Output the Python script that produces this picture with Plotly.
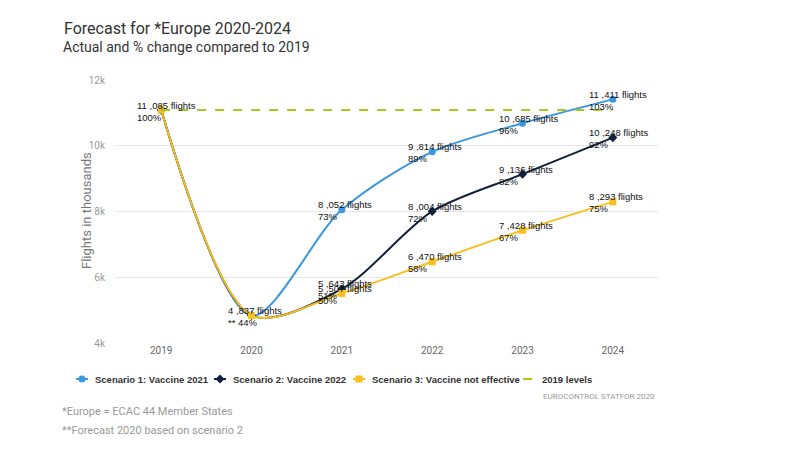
import plotly.graph_objects as go

years = ["2019", "2020", "2021", "2022", "2023", "2024"]
s1_values = [11085, 4837, 8052, 9814, 10685, 11411]
s2_values = [11085, 4837, 5643, 8004, 9136, 10248]
s3_values = [11085, 4837, 5507, 6470, 7428, 8293]
s1_pct = ["100%", "** 44%", "73%", "89%", "96%", "103%"]
s2_pct = ["100%", "** 44%", "51%", "72%", "82%", "92%"]
s3_pct = ["100%", "** 44%", "50%", "58%", "67%", "75%"]
level_2019 = [11085] * len(years)

series_names = ["Scenario 1: Vaccine 2021", "Scenario 2: Vaccine 2022",
                "Scenario 3: Vaccine not effective"]
level_name = "2019 levels"
colors = ["#3a97e0", "#14213d", "#f8c01e"]
level_color = "#a5c81e"
symbols = ["circle", "diamond", "square"]

fig = go.Figure()
for name, vals, col, sym in zip(series_names, [s1_values, s2_values, s3_values], colors, symbols):
    fig.add_trace(go.Scatter(
        x=years, y=vals, name=name, mode="lines+markers",
        line=dict(color=col, width=2, shape="spline", smoothing=0.85),
        marker=dict(color=col, size=7, symbol=sym),
        hoverinfo="skip"))

fig.add_trace(go.Scatter(
    x=years, y=level_2019, name=level_name, mode="lines",
    line=dict(color=level_color, width=2, dash="dash"), hoverinfo="skip"))

def fmt(v):
    return f"{v // 1000} ,{v % 1000:03d} flights"

annotations = []
seen = set()
for vals, pcts in [(s1_values, s1_pct), (s2_values, s2_pct), (s3_values, s3_pct)]:
    for i, (v, p) in enumerate(zip(vals, pcts)):
        if (i, v) in seen:
            continue
        seen.add((i, v))
        annotations.append(dict(
            x=i, y=v, xref="x", yref="y", text=fmt(v) + "<br>" + p,
            showarrow=False, xanchor="left", yanchor="middle", xshift=-26, yshift=-1,
            align="left", font=dict(family="Liberation Sans, Arial", size=9.5, color="#111111")))

# screen pixel -> paper coords (plot area spans x 116..658, y 80..343 on screen)
PL, PW, PB, PH = 116, 542, 343, 263
def px(x, y):
    return (x - PL) / PW, (PB - y) / PH

def dx(w):
    return w / PW

def dy(h):
    return h / PH

tx, ty = px(62, 28)
annotations.append(dict(x=tx, y=ty, xref="paper", yref="paper", text="Forecast for *Europe 2020-2024",
                        showarrow=False, xanchor="left", yanchor="middle",
                        font=dict(family="Roboto", size=16, color="#333333")))
tx, ty = px(61, 47)
annotations.append(dict(x=tx, y=ty, xref="paper", yref="paper", text="Actual and % change compared to 2019",
                        showarrow=False, xanchor="left", yanchor="middle",
                        font=dict(family="Roboto", size=14, color="#333333")))
tx, ty = px(86, 211)
annotations.append(dict(x=tx, y=ty, xref="paper", yref="paper", text="Flights in thousands",
                        showarrow=False, textangle=-90, xanchor="center", yanchor="middle",
                        font=dict(family="Roboto", size=13, color="#777777")))
tx, ty = px(657, 396)
annotations.append(dict(x=tx, y=ty, xref="paper", yref="paper", text="EUROCONTROL STATFOR 2020",
                        showarrow=False, xanchor="right", yanchor="middle",
                        font=dict(family="Roboto", size=8, color="#999999")))
tx, ty = px(60, 411)
annotations.append(dict(x=tx, y=ty, xref="paper", yref="paper", text="*Europe = ECAC 44 Member States",
                        showarrow=False, xanchor="left", yanchor="middle",
                        font=dict(family="Roboto", size=11, color="#999999")))
tx, ty = px(60, 430)
annotations.append(dict(x=tx, y=ty, xref="paper", yref="paper", text="**Forecast 2020 based on scenario 2",
                        showarrow=False, xanchor="left", yanchor="middle",
                        font=dict(family="Roboto", size=11, color="#999999")))

# custom compact legend (like the reference)
legend_names = series_names + [level_name]
legend_colors = colors + [level_color]
legend_symbols = symbols + [None]
legend_starts = [76, 214, 353, 523]
LY = 379
shapes = []
for name, col, sym, sx in zip(legend_names, legend_colors, legend_symbols, legend_starts):
    x0, y0 = px(sx, LY)
    x1, _ = px(sx + 12, LY)
    shapes.append(dict(type="line", xref="paper", yref="paper", x0=x0, x1=x1, y0=y0, y1=y0,
                       line=dict(color=col, width=2, dash="dash" if sym is None else "solid")))
    cx, cy = px(sx + 6, LY)
    if sym == "circle":
        shapes.append(dict(type="circle", xref="paper", yref="paper", x0=cx - dx(3.5), x1=cx + dx(3.5),
                           y0=cy - dy(3.5), y1=cy + dy(3.5), fillcolor=col, line=dict(width=0)))
    elif sym == "square":
        shapes.append(dict(type="rect", xref="paper", yref="paper", x0=cx - dx(3.5), x1=cx + dx(3.5),
                           y0=cy - dy(3.5), y1=cy + dy(3.5), fillcolor=col, line=dict(width=0)))
    elif sym == "diamond":
        path = (f"M {cx - dx(4.5)} {cy} L {cx} {cy + dy(4.5)} L {cx + dx(4.5)} {cy} "
                f"L {cx} {cy - dy(4.5)} Z")
        shapes.append(dict(type="path", xref="paper", yref="paper", path=path,
                           fillcolor=col, line=dict(width=0)))
    lx, ly = px(sx + 17, LY)
    annotations.append(dict(x=lx, y=ly, xref="paper", yref="paper", text="<b>" + name + "</b>",
                            showarrow=False, xanchor="left", yanchor="middle",
                            font=dict(family="Liberation Sans, Arial", size=9.5, color="#333333")))

fig.update_layout(
    width=800, height=450,
    margin=dict(l=108, r=150, t=72, b=115),
    paper_bgcolor="white", plot_bgcolor="white",
    showlegend=False,
    xaxis=dict(type="category", range=[-0.5, 5.5], showgrid=False, zeroline=False,
               showline=False, ticks="", tickfont=dict(family="Roboto", size=10, color="#666666")),
    yaxis=dict(range=[4000, 12000], tickvals=[4000, 6000, 8000, 10000, 12000],
               ticktext=["4k", "6k", "8k", "10k", "12k"], showgrid=True, gridcolor="#e6e6e6",
               zeroline=False, showline=False, ticklabelstandoff=10,
               tickfont=dict(family="Roboto", size=10, color="#999999")),
    annotations=annotations,
    shapes=shapes,
)

fig.write_html("out.html")
